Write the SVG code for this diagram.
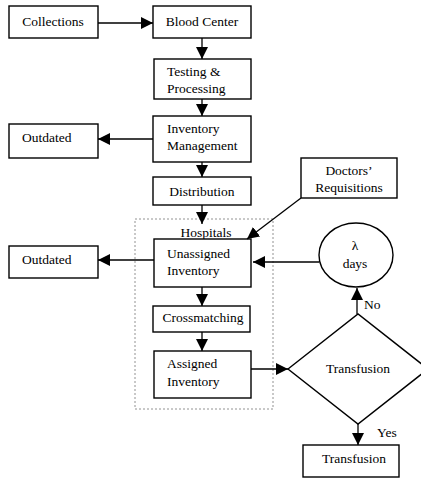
<svg xmlns="http://www.w3.org/2000/svg" width="421" height="478" viewBox="0 0 421 478">
<style>
  .box{fill:#fff;stroke:#000;stroke-width:1.4}
  .t{font-family:'Liberation Serif','Times New Roman','DejaVu Serif',serif;font-size:13.5px;fill:#000}
  .c{text-anchor:middle}
  .ln{stroke:#000;stroke-width:1.3;fill:none}
</style>
<defs>
  <marker id="ah" markerUnits="userSpaceOnUse" markerWidth="12" markerHeight="12" refX="10" refY="5" orient="auto" viewBox="0 0 10 10">
    <path d="M0,0 L10,5 L0,10 Z" fill="#000"/>
  </marker>
</defs>
<rect x="135" y="219" width="138" height="190" fill="none" stroke="#777" stroke-width="0.8" stroke-dasharray="2,2"/>
<text class="t c" x="206" y="237">Hospitals</text>
<g id="collections"><rect class="box" x="9" y="6" width="89" height="32"/><text class="t c" x="53" y="26">Collections</text></g>
<g id="bloodcenter"><rect class="box" x="153" y="6" width="98" height="32"/><text class="t c" x="202" y="26">Blood Center</text></g>
<g id="testing"><rect class="box" x="154" y="59" width="97" height="40"/><text class="t" x="167" y="76">Testing &amp;</text><text class="t" x="167" y="93">Processing</text></g>
<g id="inventory"><rect class="box" x="153" y="116" width="98" height="46"/><text class="t" x="167" y="133">Inventory</text><text class="t" x="167" y="150">Management</text></g>
<g id="outdated1"><rect class="box" x="9" y="124" width="89" height="34"/><text class="t" x="22" y="142">Outdated</text></g>
<g id="distribution"><rect class="box" x="153" y="177" width="98" height="28"/><text class="t c" x="202" y="196">Distribution</text></g>
<g id="doctors"><rect class="box" x="301" y="158" width="96" height="40"/><text class="t c" x="349" y="175">Doctors’</text><text class="t c" x="349" y="192">Requisitions</text></g>
<g id="unassigned"><rect class="box" x="154" y="239" width="97" height="48"/><text class="t" x="167" y="258">Unassigned</text><text class="t" x="167" y="275">Inventory</text></g>
<g id="outdated2"><rect class="box" x="9" y="246" width="89" height="32"/><text class="t" x="22" y="264">Outdated</text></g>
<g id="lambda"><ellipse class="box" cx="356" cy="255" rx="37" ry="32"/><text class="t c" x="355" y="250">λ</text><text class="t c" x="355" y="268">days</text></g>
<g id="crossmatching"><rect class="box" x="153" y="306" width="97" height="26"/><text class="t c" x="203" y="322">Crossmatching</text></g>
<g id="assigned"><rect class="box" x="154" y="351" width="97" height="47"/><text class="t" x="167" y="368">Assigned</text><text class="t" x="167" y="386">Inventory</text></g>
<g id="decision"><polygon class="box" points="288,369 358,314 428,369 358,424"/><text class="t c" x="358" y="373">Transfusion</text></g>
<g id="transfusion"><rect class="box" x="303" y="445" width="96" height="32"/><text class="t c" x="354" y="463">Transfusion</text></g>
<g id="connectors">
  <line class="ln" x1="98" y1="23" x2="153" y2="23" marker-end="url(#ah)"/>
  <line class="ln" x1="202" y1="38" x2="202" y2="59" marker-end="url(#ah)"/>
  <line class="ln" x1="202" y1="99" x2="202" y2="116" marker-end="url(#ah)"/>
  <line class="ln" x1="153" y1="139" x2="98" y2="139" marker-end="url(#ah)"/>
  <line class="ln" x1="202" y1="162" x2="202" y2="177" marker-end="url(#ah)"/>
  <line class="ln" x1="202" y1="205" x2="202" y2="224" marker-end="url(#ah)"/>
  <line class="ln" x1="301" y1="198" x2="247" y2="239" marker-end="url(#ah)"/>
  <line class="ln" x1="319" y1="262" x2="253" y2="262" marker-end="url(#ah)"/>
  <line class="ln" x1="154" y1="260" x2="98" y2="260" marker-end="url(#ah)"/>
  <line class="ln" x1="202" y1="287" x2="202" y2="306" marker-end="url(#ah)"/>
  <line class="ln" x1="202" y1="332" x2="202" y2="351" marker-end="url(#ah)"/>
  <line class="ln" x1="251" y1="369" x2="288" y2="369" marker-end="url(#ah)"/>
  <line class="ln" x1="357" y1="314" x2="357" y2="288" marker-end="url(#ah)"/>
  <line class="ln" x1="358" y1="424" x2="358" y2="445" marker-end="url(#ah)"/>
  <text class="t" x="364" y="309">No</text>
  <text class="t" x="377" y="437">Yes</text>
</g>
</svg>
